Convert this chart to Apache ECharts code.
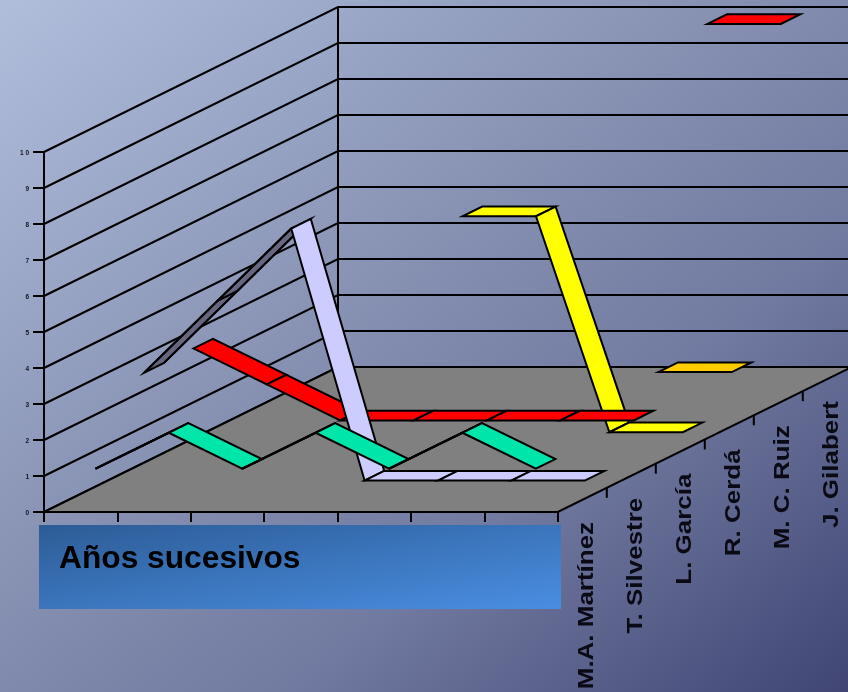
<!DOCTYPE html>
<html>
<head>
<meta charset="utf-8">
<style>html,body{margin:0;padding:0;background:#808aac}#chart{width:848px;height:692px}</style>
<script src="https://cdn.jsdelivr.net/npm/echarts@6/dist/echarts.min.js"></script>
</head>
<body>
<div id="chart"></div>
<script>
// Valoraciones por persona a lo largo de los años
const years = [1, 2, 3, 4, 5, 6, 7];
const people = ['M.A. Martínez', 'T. Silvestre', 'L. García', 'R. Cerdá', 'M. C. Ruiz', 'J. Gilabert'];
const martinez = [1, 2, 1, 2, 1, 2, 1];
const silvestre = [3, 5, 7, 0, 0, 0, 0];
const garcia = [3, 2, 1, 1, 1, 1, 1];
const cerda = [null, null, null, 6, 6, 0, 0];
const ruiz = [null, null, null, null, null, 1, 1];
const gilabert = [null, null, null, null, null, 10, 10];
const seriesValues = [martinez, silvestre, garcia, cerda, ruiz, gilabert];
const topColors = ['#00E6AA', '#CCCCFF', '#FF0000', '#FFFF00', '#FFCC00', '#FF0000'];
const underColors = ['#007355', '#666680', '#800000', '#808000', '#806600', '#800000'];
const valueTicks = [0, 1, 2, 3, 4, 5, 6, 7, 8, 9, 10];
const valueTickLabels = ['0', '1', '2', '3', '4', '5', '6', '7', '8', '9', '1 0'];
const yearTicks = [0, 1, 2, 3, 4, 5, 6, 7];
const depthTicks = [1, 2, 3, 4, 5];

// Oblique projection: depth shifts a point along both plot axes.
const DEPTH_X = 49 / 73.4;
const DEPTH_Y = 24.17 / 36;
const project = (cat, val, depth) => [cat + depth * DEPTH_X, val + depth * DEPTH_Y];
const RIBBON_FRONT = 0.3;
const RIBBON_BACK = 0.7;
const LINE = { stroke: '#000', lineWidth: 2, lineJoin: 'miter', fill: 'none' };

function wallItem(params, api) {
  const v = api.value(0);
  const pts = [project(0, v, 0), project(0, v, 6), project(7, v, 6)].map(p => api.coord(p));
  return { type: 'polyline', shape: { points: pts }, style: LINE };
}

function floorItem(params, api) {
  const pts = [project(0, 0, 0), project(7, 0, 0), project(7, 0, 6), project(0, 0, 6)].map(p => api.coord(p));
  return {
    type: 'polygon', shape: { points: pts },
    style: { fill: '#808080', stroke: '#000', lineWidth: 2 }
  };
}

function ribbonItem(params, api) {
  const i = api.value(0), a = api.value(1), b = api.value(2), s = api.value(3);
  const front = s + RIBBON_FRONT, back = s + RIBBON_BACK;
  const pts = [
    project(i + 0.5, a, front), project(i + 1.5, b, front),
    project(i + 1.5, b, back), project(i + 0.5, a, back)
  ].map(p => api.coord(p));
  const rising = b > a;
  const children = [{
    type: 'polygon', shape: { points: pts },
    style: { fill: rising ? underColors[s] : topColors[s], stroke: '#000', lineWidth: 2, lineJoin: 'miter' }
  }];
  // A rising ribbon can collapse to almost a line, so its long edges are stroked on their own.
  if (rising) {
    children.push(
      { type: 'polyline', shape: { points: [pts[0], pts[1]] }, style: LINE },
      { type: 'polyline', shape: { points: [pts[3], pts[2]] }, style: LINE }
    );
  }
  return { type: 'group', children };
}

function depthTickItem(params, api) {
  const p = api.coord(project(7, 0, api.value(0)));
  return {
    type: 'line', shape: { x1: p[0], y1: p[1], x2: p[0], y2: p[1] + 10 },
    style: { stroke: '#000', lineWidth: 2 }
  };
}

function depthLabelItem(params, api) {
  const s = api.value(0);
  const p = api.coord(project(7, 0, s + 0.5));
  return {
    type: 'text', x: p[0] + 5, y: p[1] + 22, rotation: Math.PI / 2, scaleX: 1.18,
    style: {
      text: people[s], textAlign: 'right', textVerticalAlign: 'middle',
      fill: '#0a0a14', font: 'bold 22px "Liberation Sans", Arial, sans-serif'
    }
  };
}

function valueLabelItem(params, api) {
  const i = api.value(0);
  const p = api.coord(project(0, valueTicks[i], 0));
  return {
    type: 'text', x: p[0] - 15, y: p[1] + 1,
    style: {
      text: valueTickLabels[i], textAlign: 'right', textVerticalAlign: 'middle',
      fill: '#14141f', font: 'bold 6.5px "Liberation Sans", Arial, sans-serif'
    }
  };
}

const ribbons = [];
seriesValues.forEach((vals, s) => ribbons.push({ s, vals }));
// Far series first, so nearer ribbons cover them.
ribbons.reverse();

const custom = (name, renderItem, data) => ({
  name, type: 'custom', coordinateSystem: 'cartesian2d', renderItem, data,
  clip: false, silent: true, animation: false
});

const chart = echarts.init(document.getElementById('chart'), null, { renderer: 'canvas' });
chart.setOption({
  animation: false,
  backgroundColor: {
    type: 'linear', x: 0, y: 0, x2: 0.8, y2: 1.2,
    colorStops: [
      { offset: 0, color: '#B0BEDC' },
      { offset: 0.5, color: '#808AAC' },
      { offset: 0.67, color: '#717AA0' },
      { offset: 1, color: '#404574' }
    ]
  },
  grid: { left: 44, top: 7, width: 804, height: 505, containLabel: false },
  xAxis: {
    type: 'value', min: 0, max: 804 / 73.4,
    axisLine: { show: false }, splitLine: { show: false },
    axisLabel: { show: false },
    axisTick: { show: true, length: 10, customValues: yearTicks, lineStyle: { color: '#000', width: 2 } }
  },
  yAxis: {
    type: 'value', min: 0, max: 505 / 36,
    axisLine: { show: false }, splitLine: { show: false },
    axisLabel: { show: false },
    axisTick: { show: true, length: 11, customValues: valueTicks, lineStyle: { color: '#000', width: 2 } }
  },
  graphic: [
    {
      type: 'rect', x: 39, y: 525, z: 10,
      shape: { width: 522, height: 84 },
      style: {
        fill: {
          type: 'linear', x: 0, y: 0, x2: 0.05, y2: 1.95,
          colorStops: [{ offset: 0, color: '#2C5C96' }, { offset: 1, color: '#4A8EE2' }]
        }
      }
    },
    {
      type: 'text', x: 59, y: 559, scaleX: 1.023, z: 11,
      style: {
        text: 'Años sucesivos', fill: '#000', textVerticalAlign: 'middle',
        font: 'bold 31px "Liberation Sans", Arial, sans-serif'
      }
    }
  ],
  series: [
    custom('Paredes', wallItem, valueTicks.map(v => [v])),
    custom('Suelo', floorItem, [[0]]),
    custom('Eje', (p, api) => {
      const pts = [project(0, 0, 0), project(0, 10, 0)].map(q => api.coord(q));
      return { type: 'polyline', shape: { points: pts }, style: LINE };
    }, [[0]]),
    custom('Fondo', (p, api) => {
      const pts = [project(0, 0, 6), project(0, 10, 6)].map(q => api.coord(q));
      return { type: 'polyline', shape: { points: pts }, style: LINE };
    }, [[0]]),
    custom('Marcas', depthTickItem, depthTicks.map(z => [z])),
    custom('Valores', valueLabelItem, valueTicks.map((v, i) => [i])),
    custom('Nombres', depthLabelItem, people.map((n, s) => [s])),
    ...ribbons.map(({ s, vals }) => {
      const rows = [];
      for (let i = 0; i < years.length - 1; i++) {
        if (vals[i] !== null && vals[i + 1] !== null) rows.push([i, vals[i], vals[i + 1], s]);
      }
      return custom(people[s], ribbonItem, rows);
    })
  ]
});
</script>
</body>
</html>
